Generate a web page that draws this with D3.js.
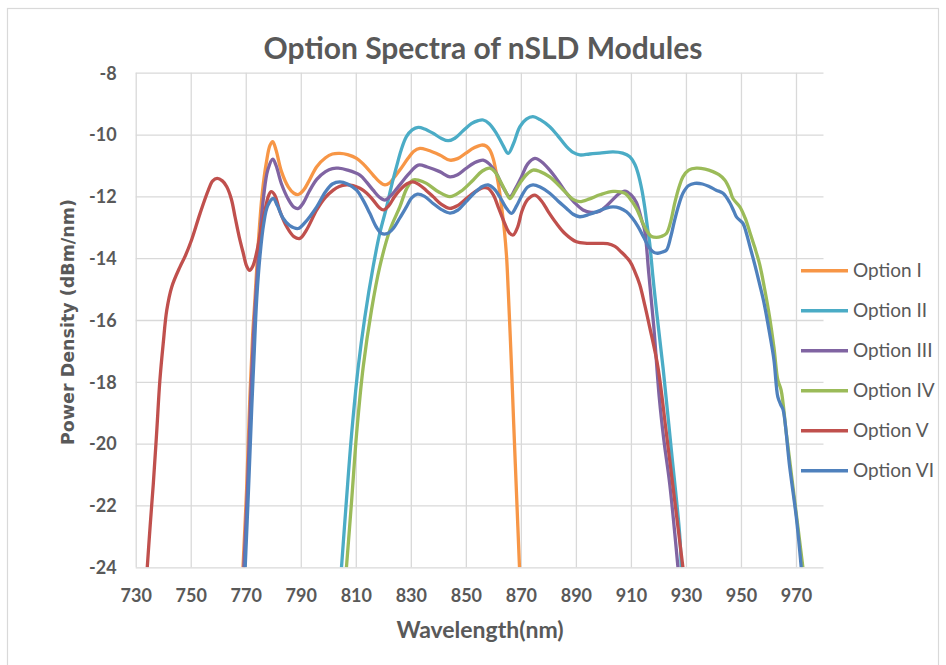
<!DOCTYPE html>
<html>
<head>
<meta charset="utf-8">
<script src="https://cdn.jsdelivr.net/npm/d3@7"></script>
<style>
  body { margin: 0; background: #fff; }
  svg { display: block; }
</style>
</head>
<body>
<div id="chart"></div>
<script>
// series values: [wavelength nm, dBm/nm]
const optionI = [[769.0,-24],[770.3,-21.5],[771.5,-18.5],[772.5,-16.5],[773.3,-15.4],[774.5,-13.6],[776,-11.9],[777.5,-10.9],[778.8,-10.35],[779.8,-10.23],[781,-10.5],[783,-11.2],[785.5,-11.7],[787.5,-11.9],[789.1,-11.94],[791,-11.8],[793,-11.5],[795.8,-11.04],[799,-10.75],[801.5,-10.63],[804.2,-10.61],[807,-10.65],[810.3,-10.77],[813,-10.98],[816.3,-11.31],[818.5,-11.52],[820.6,-11.63],[822.5,-11.55],[824,-11.38],[826,-11.15],[829,-10.77],[831,-10.55],[833.3,-10.45],[836,-10.5],[840.5,-10.66],[844.2,-10.83],[847,-10.78],[850,-10.6],[853,-10.43],[855.7,-10.34],[857.5,-10.38],[858.7,-10.5],[860,-10.8],[861.1,-11.26],[862,-11.7],[863,-12.34],[864,-13.1],[864.8,-13.95],[865.4,-15.03],[866.5,-17.3],[867.4,-19.37],[868.5,-21.8],[869.5,-24]];

const optionII = [[804.8,-24],[806.6,-21.83],[808.5,-19.67],[810.9,-17.51],[813.3,-15.9],[816.3,-14.28],[818.7,-13.2],[821.2,-12.34],[823,-11.65],[824.8,-11.04],[826.5,-10.5],[828.4,-10.07],[830.5,-9.85],[832.7,-9.77],[835,-9.82],[838.1,-9.96],[841,-10.12],[843.6,-10.2],[846,-10.12],[849,-9.88],[852,-9.65],[854.5,-9.55],[856.3,-9.53],[858.5,-9.65],[861.1,-9.96],[863.5,-10.35],[865.4,-10.61],[867.3,-10.3],[869.6,-9.75],[872,-9.5],[874.4,-9.42],[877,-9.52],[880.5,-9.75],[883.5,-10.05],[886.6,-10.39],[889,-10.58],[891.4,-10.66],[895,-10.63],[898.7,-10.6],[903.5,-10.56],[907,-10.6],[909.6,-10.72],[911.5,-10.98],[912.6,-11.26],[914,-11.8],[915,-12.34],[916,-13.0],[916.8,-13.5],[918,-14.6],[919.3,-15.7],[921.7,-17.56],[924.7,-20.21],[927.7,-22.91],[928.3,-24]];

const optionIII = [[769.3,-24],[770.6,-21.5],[771.8,-18.5],[772.8,-16.5],[773.6,-15.3],[775,-13.5],[776.5,-12],[778,-11.15],[779.8,-10.8],[781,-11.0],[783,-11.6],[785.5,-12.1],[787.5,-12.35],[789.1,-12.39],[791,-12.2],[793,-11.85],[795.8,-11.45],[799,-11.2],[801.5,-11.1],[803.6,-11.09],[807,-11.15],[811.5,-11.31],[814,-11.55],[816.3,-11.8],[818.5,-12.02],[820.6,-12.12],[822.5,-12.0],[824,-11.85],[826,-11.63],[829,-11.3],[832.7,-10.99],[836,-11.05],[840.5,-11.2],[844.2,-11.37],[847,-11.3],[850,-11.1],[853,-10.92],[856.3,-10.83],[858.5,-10.95],[861.1,-11.26],[863.5,-11.7],[866,-12.01],[868,-11.75],[870.2,-11.37],[872.5,-10.95],[875.1,-10.77],[877.5,-10.88],[880.5,-11.15],[883.5,-11.5],[886.6,-11.9],[889.5,-12.2],[892.6,-12.44],[895.5,-12.52],[898.7,-12.48],[901,-12.32],[903.5,-12.1],[905.5,-11.93],[907.8,-11.83],[910,-11.95],[912,-12.2],[914,-12.8],[915,-13.1],[916.5,-14.5],[918.3,-16.2],[920.3,-18.5],[922,-19.9],[924.1,-21.3],[927.1,-24]];

const optionIV = [[806.6,-24],[808.5,-21.83],[810.3,-19.67],[812.7,-17.51],[815.7,-15.68],[818.7,-14.28],[822.4,-13.09],[826,-12.34],[828.5,-11.75],[830.8,-11.47],[833,-11.48],[835.7,-11.58],[840,-11.85],[844.2,-12.01],[848,-11.85],[852.7,-11.47],[856,-11.18],[858.7,-11.09],[860.5,-11.2],[862.3,-11.47],[864.5,-11.85],[866,-12.07],[867.8,-11.85],[869.6,-11.58],[872,-11.3],[874.4,-11.15],[877,-11.2],[880.5,-11.37],[883.5,-11.62],[886.6,-11.9],[889,-12.1],[891.4,-12.17],[895,-12.08],[898.7,-11.95],[903.5,-11.84],[907.8,-11.9],[909.6,-12.07],[912,-12.39],[914,-12.8],[915.6,-13.09],[917.5,-13.3],[919.3,-13.33],[921,-13.3],[922.9,-13.2],[924.5,-12.8],[925.9,-12.23],[927.5,-11.7],[928.9,-11.37],[931,-11.15],[933.8,-11.09],[937,-11.12],[939.8,-11.2],[942,-11.3],[944.1,-11.47],[945.8,-11.75],[947.1,-12.07],[949.6,-12.34],[951.5,-12.7],[953.2,-13.15],[955,-13.65],[956.8,-14.2],[958.5,-14.95],[960.4,-15.9],[962,-16.9],[963.4,-17.94],[964.6,-18.27],[966.5,-19.67],[969.5,-21.83],[972.5,-24]];

const optionV = [[734.2,-24],[735.3,-22.6],[736.4,-21.3],[737.6,-19.67],[738.8,-17.94],[740,-16.76],[741.3,-15.68],[743.1,-14.93],[746.1,-14.28],[747.9,-13.95],[750.3,-13.41],[753.4,-12.55],[756.4,-11.8],[758,-11.5],[759.6,-11.42],[761.5,-11.5],[763.1,-11.69],[764.8,-12.1],[766.1,-12.66],[767.6,-13.3],[769.1,-13.84],[770.3,-14.25],[771.4,-14.39],[772.6,-14.25],[774,-13.8],[775.5,-13.1],[777,-12.45],[778.2,-12.0],[779.2,-11.85],[780.5,-11.95],[782.5,-12.5],[785,-13.0],[787.5,-13.3],[789.7,-13.36],[792,-13.1],[795.8,-12.44],[798.8,-12.05],[801.8,-11.8],[804,-11.68],[806.6,-11.63],[809,-11.65],[811.5,-11.74],[814,-11.9],[816.3,-12.12],[818.5,-12.36],[820,-12.44],[822,-12.3],[824,-12.02],[826,-11.8],[828.5,-11.6],[830.8,-11.53],[833,-11.62],[835.5,-11.8],[838.1,-12.01],[841,-12.25],[844.2,-12.39],[847,-12.3],[850.5,-12.05],[854,-11.82],[856.5,-11.72],[858.1,-11.74],[860,-11.95],[862,-12.4],[864,-12.85],[865.8,-13.18],[867.2,-13.25],[868.8,-13.0],[870.5,-12.45],[872.5,-12.1],[875.1,-11.96],[877.5,-12.15],[880,-12.5],[882.9,-12.87],[886,-13.2],[890.2,-13.47],[894,-13.52],[898.7,-13.52],[901.5,-13.53],[904.2,-13.62],[906.5,-13.8],[909.6,-14.1],[911.5,-14.45],[913.2,-14.85],[915,-15.5],[916.8,-16.22],[919.8,-17.51],[922.9,-19.67],[925.9,-21.83],[928.9,-24]];

const optionVI = [[769.8,-24],[771,-21.5],[772.2,-18.8],[773,-17.2],[774,-15.3],[775.2,-13.9],[776.5,-12.9],[778,-12.3],[780,-12.07],[781.5,-12.3],[783.5,-12.7],[786,-12.95],[789.1,-13.04],[791.5,-12.85],[795.8,-12.34],[799,-11.85],[801.5,-11.6],[804.2,-11.53],[807,-11.6],[810.3,-11.8],[812.5,-12.1],[815.1,-12.55],[817.5,-13.0],[819.4,-13.2],[821.5,-13.2],[823.6,-13.04],[826,-12.7],[828.4,-12.34],[830.3,-12.05],[832.4,-11.93],[835,-12.0],[838.1,-12.23],[841,-12.42],[844.2,-12.54],[847,-12.45],[850,-12.18],[853,-11.9],[856,-11.68],[858.1,-11.63],[860.2,-11.75],[862.3,-12.01],[864.5,-12.35],[866.6,-12.55],[868.5,-12.3],[870.5,-11.95],[872.5,-11.7],[874.4,-11.63],[877,-11.7],[880.5,-11.9],[883.5,-12.15],[886.6,-12.39],[889,-12.58],[891.4,-12.66],[895,-12.58],[898.7,-12.46],[901,-12.38],[903.5,-12.34],[906,-12.38],[908.4,-12.5],[910.5,-12.7],[912.6,-12.98],[914.8,-13.35],[916.8,-13.68],[918.5,-13.82],[919.8,-13.84],[921.5,-13.8],[922.9,-13.74],[924.5,-13.3],[925.9,-12.77],[927.5,-12.25],[928.9,-11.9],[931,-11.65],[933.2,-11.58],[936,-11.6],[938.6,-11.69],[941,-11.8],[943.5,-11.9],[945.9,-12.2],[947.5,-12.5],[948.5,-12.68],[950.7,-12.87],[952,-13.2],[953.2,-13.6],[955,-14.2],[956.8,-14.85],[958.5,-15.5],[960.4,-16.43],[962,-17.3],[963.4,-18.49],[964.5,-18.75],[965.3,-18.9],[967.7,-20.75],[970.1,-22.37],[971.9,-24]];

const seriesNames = ["Option I", "Option II", "Option III", "Option IV", "Option V", "Option VI"];
const seriesValues = [optionI, optionII, optionIII, optionIV, optionV, optionVI];
const seriesColors = ["#F79646", "#4BACC6", "#8064A2", "#9BBB59", "#C0504D", "#4F81BD"];

const xTicks = [730, 750, 770, 790, 810, 830, 850, 870, 890, 910, 930, 950, 970];
const yTicks = [-8, -10, -12, -14, -16, -18, -20, -22, -24];

const W = 946, H = 665;
const margin = { top: 72.7, right: 122.5, bottom: 97.7, left: 135.7 };
const width = W - margin.left - margin.right,
      height = H - margin.top - margin.bottom;
const textColor = "#595959";

const svg = d3.select("#chart").append("svg")
    .attr("width", W)
    .attr("height", H);

// outer chart border
svg.append("rect")
    .attr("x", 7.5).attr("y", 8.5)
    .attr("width", 931).attr("height", 670)
    .attr("fill", "none")
    .attr("stroke", "#d9d9d9")
    .attr("stroke-width", 1.2);

const g = svg.append("g")
    .attr("transform", "translate(" + margin.left + "," + margin.top + ")");

const x = d3.scaleLinear().domain([730, 980]).range([0, width]);
const y = d3.scaleLinear().domain([-24, -8]).range([height, 0]);

// gridlines
g.append("g")
    .attr("class", "grid")
    .attr("transform", "translate(0," + height + ")")
    .call(d3.axisBottom(x).tickValues(xTicks).tickSize(-height).tickFormat(""))
    .call(s => s.select(".domain").remove());
g.append("g")
    .attr("class", "grid")
    .call(d3.axisLeft(y).tickValues(yTicks).tickSize(-width).tickFormat(""))
    .call(s => s.select(".domain").remove());
g.selectAll(".grid line")
    .attr("stroke", "#d9d9d9")
    .attr("stroke-width", 1.3);

// tick labels (plain hyphen for negatives, as in the original)
const xAxis = g.append("g")
    .attr("transform", "translate(0," + height + ")")
    .call(d3.axisBottom(x).tickValues(xTicks).tickSize(0).tickFormat(d => String(d)));
xAxis.select(".domain").remove();
xAxis.selectAll("text")
    .attr("y", 35).attr("dy", null)
    .attr("fill", textColor)
    .style("font-family", "Lato, sans-serif")
    .style("font-size", "18px")
    .style("font-weight", "bold");

const yAxis = g.append("g")
    .call(d3.axisLeft(y).tickValues(yTicks).tickSize(0).tickFormat(d => String(d)));
yAxis.select(".domain").remove();
yAxis.selectAll("text")
    .attr("x", -19).attr("dy", "0.35em")
    .attr("fill", textColor)
    .style("font-family", "Lato, sans-serif")
    .style("font-size", "18px")
    .style("font-weight", "bold");

// lines
svg.append("clipPath").attr("id", "plot-clip")
    .append("rect").attr("x", 0).attr("y", -4).attr("width", width).attr("height", height + 4);

const line = d3.line()
    .x(d => x(d[0]))
    .y(d => y(d[1]))
    .curve(d3.curveCatmullRom.alpha(0.5));

g.append("g")
    .attr("clip-path", "url(#plot-clip)")
    .selectAll("path")
    .data(seriesValues)
    .enter()
    .append("path")
    .attr("d", d => line(d))
    .attr("fill", "none")
    .attr("stroke", (d, i) => seriesColors[i])
    .attr("stroke-width", 3.3)
    .attr("stroke-linejoin", "round")
    .attr("stroke-linecap", "butt");

// legend
const legend = svg.append("g")
    .selectAll("g")
    .data(seriesNames)
    .enter()
    .append("g")
    .attr("transform", (d, i) => "translate(801," + (270.7 + i * 40) + ")");
legend.append("line")
    .attr("x1", 0).attr("x2", 47)
    .attr("stroke", (d, i) => seriesColors[i])
    .attr("stroke-width", 3.5);
legend.append("text")
    .attr("x", 52).attr("dy", "0.35em")
    .attr("fill", textColor)
    .style("font-family", "Lato, sans-serif")
    .style("font-size", "19px")
    .text(d => d);

// titles
svg.append("text")
    .attr("x", 483).attr("y", 59)
    .attr("text-anchor", "middle")
    .attr("fill", textColor)
    .style("font-family", "Lato, sans-serif")
    .style("font-size", "30px")
    .style("font-weight", "bold")
    .text("Option Spectra of nSLD Modules");

svg.append("text")
    .attr("x", 480).attr("y", 638)
    .attr("text-anchor", "middle")
    .attr("fill", textColor)
    .style("font-family", "Lato, sans-serif")
    .style("font-size", "23px")
    .style("font-weight", "bold")
    .text("Wavelength(nm)");

svg.append("text")
    .attr("transform", "translate(74,322) rotate(-90)")
    .attr("text-anchor", "middle")
    .attr("fill", textColor)
    .style("font-family", "'DejaVu Sans', sans-serif")
    .style("font-size", "17.5px")
    .style("font-weight", "bold")
    .text("Power Density (dBm/nm)");
</script>
</body>
</html>
